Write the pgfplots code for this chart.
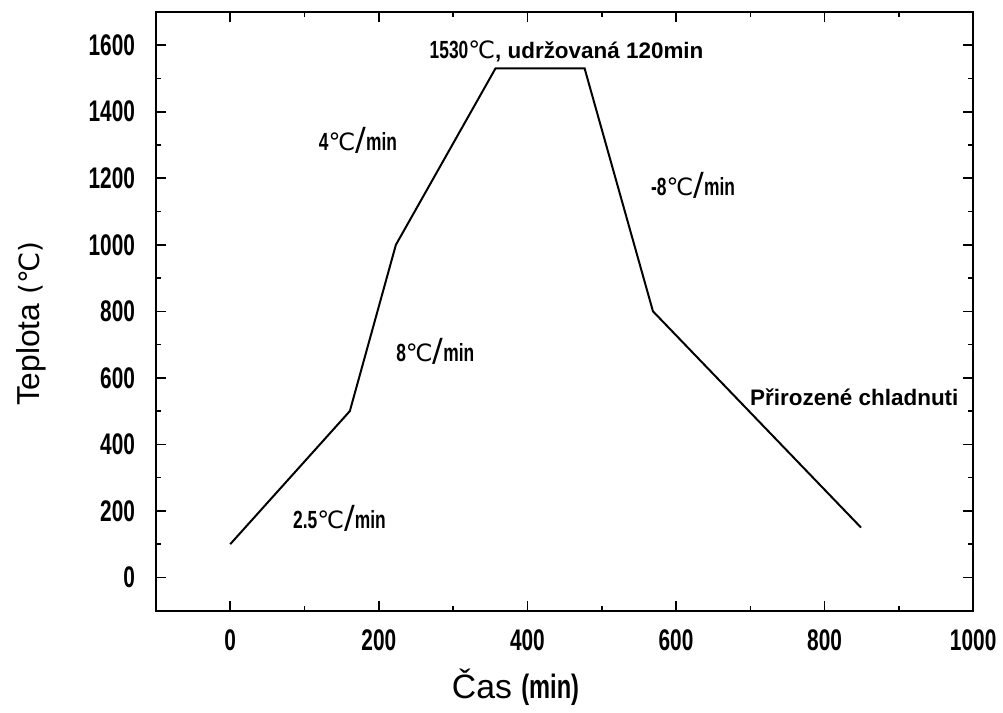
\documentclass[border=0pt]{standalone}
\usepackage{fontspec}
\usepackage{pgfplots}
\pgfplotsset{compat=1.18}
\setmainfont{Liberation Sans}
\newfontfamily\condfont[FakeStretch=0.7]{Liberation Sans}
\newfontfamily\degfont{DejaVu Sans}
\newcommand\dc{{\degfont\mdseries\fontsize{12}{14}\selectfont ℃}}
\newcommand\slsh{{\degfont\mdseries\fontsize{16}{16}\selectfont /}}
\newcommand\cond[1]{{\condfont\bfseries\fontsize{12.5}{14}\selectfont #1}}

\begin{document}
\begin{tikzpicture}
\begin{axis}[
    scale only axis,
    width=411.5pt,
    height=301.5pt,
    xmin=-100, xmax=1000,
    ymin=-100, ymax=1700,
    xtick={0,200,...,1000},
    ytick={0,200,...,1600},
    minor x tick num=1,
    minor y tick num=1,
    tick align=inside,
    major tick length=5pt,
    minor tick length=2.5pt,
    axis line style={line width=1pt},
    every tick/.style={black, line width=0.8pt},
    /pgf/number format/assume math mode=true,
    /pgf/number format/1000 sep={},
    tick label style={font=\condfont\bfseries\fontsize{15}{17}\selectfont},
    yticklabel style={xshift=-7pt},
    xticklabel style={yshift=-6pt},
    xlabel={\fontsize{17}{19}\selectfont Čas {\condfont\bfseries (min)}},
    xlabel style={at={(axis description cs:0.44,-0.128)}, anchor=center},
    ylabel={\fontsize{16}{18}\selectfont Teplota {\degfont\mdseries\fontsize{14}{16}\selectfont(℃)}},
    ylabel style={at={(axis description cs:-0.152,0.479)}, anchor=center},
    clip=false,
]
% temperature profile
\addplot[black, line width=1pt] coordinates {
    (0,100) (161,500) (223,1000) (357,1530) (477,1530) (569,800) (849,150)
};

\node[anchor=west, inner sep=0pt] at (axis cs:268,1582) {\cond{1530}\dc\textbf{\fontsize{11.3}{13}\selectfont , udržovaná 120min}};
\node at (axis cs:172,1313) {\cond{4}\dc\slsh\cond{min}};
\node at (axis cs:276,681) {\cond{8}\dc\slsh\cond{min}};
\node at (axis cs:147,179) {\cond{2.5}\dc\slsh\cond{min}};
\node at (axis cs:623,1179) {\cond{-8}\dc\slsh\cond{min}};
\node at (axis cs:840,543) {\textbf{\fontsize{11.3}{13}\selectfont Přirozené chladnuti}};

\path (rel axis cs:-0.1908,-0.1658) rectangle (rel axis cs:1.028,1.0199);
\end{axis}
\end{tikzpicture}
\end{document}
